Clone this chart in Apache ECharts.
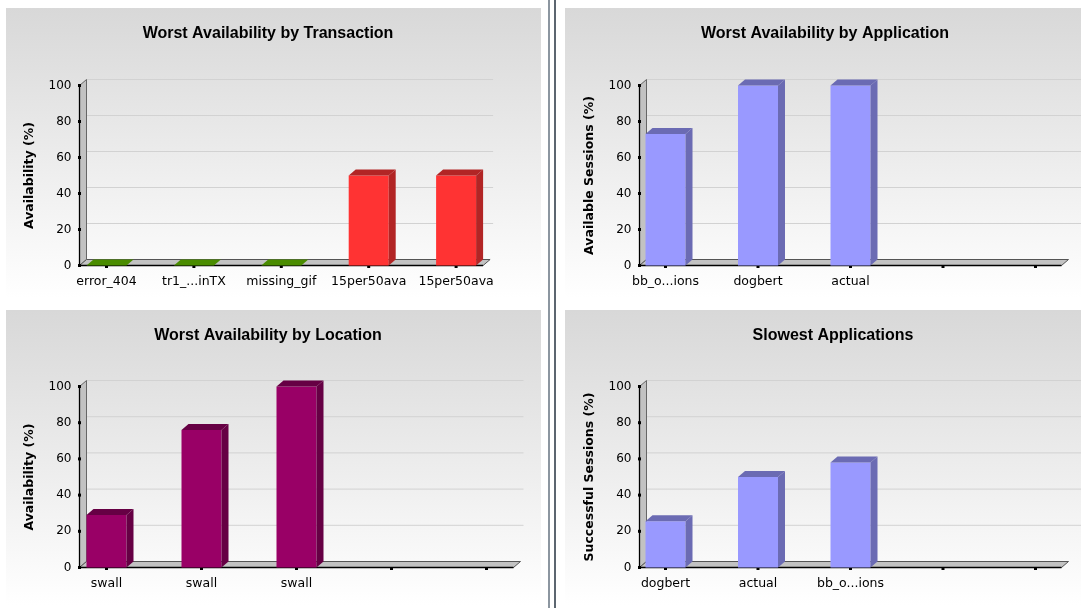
<!DOCTYPE html>
<html><head><meta charset="utf-8">
<script src="https://cdn.jsdelivr.net/npm/echarts@6/dist/echarts.min.js"></script>
<style>html,body{margin:0;padding:0;background:#fff}#c{width:1081px;height:608px}</style>
</head><body><div id="c"></div>
<script>
// ---- data ----
const titles = ['Worst Availability by Transaction', 'Worst Availability by Application', 'Worst Availability by Location', 'Slowest Applications'];
const yNames = ['Availability (%)', 'Available Sessions (%)', 'Availability (%)', 'Successful Sessions (%)'];
const txCategories = ['error_404', 'tr1_...inTX', 'missing_gif', '15per50ava', '15per50ava'];
const txValues = [0, 0, 0, 50, 50];
const appCategories = ['bb_o...ions', 'dogbert', 'actual', '', ''];
const appValues = [73, 100, 100, null, null];
const locCategories = ['swall', 'swall', 'swall', '', ''];
const locValues = [29, 76, 100, null, null];
const slowCategories = ['dogbert', 'actual', 'bb_o...ions', '', ''];
const slowValues = [25.5, 50, 58, null, null];
const yTicks = [0, 20, 40, 60, 80, 100];

// ---- layout / style ----
const DX = 7, DY = -6, BAR_W = 40;
const FONT = '"DejaVu Sans", Verdana, sans-serif';
const layouts = [
  {axisX: 79.5, first: 106.5, step: 87.4, top: 85.5, bottom: 265.5, bg: [6, 8, 535, 290], tx: 268, ty: 34, gx: 3},
  {axisX: 639.5, first: 665.5, step: 92.5, top: 85.5, bottom: 265.5, bg: [565, 8, 516, 290], tx: 825, ty: 34, gx: 14},
  {axisX: 79.5, first: 106.5, step: 95, top: 386.5, bottom: 567.5, bg: [6, 310, 535, 295], tx: 268, ty: 336, gx: 3},
  {axisX: 639.5, first: 665.5, step: 92.5, top: 386.5, bottom: 567.5, bg: [565, 310, 516, 295], tx: 833, ty: 336, gx: 14}
];
const red = {front: '#ff3333', dark: '#b22525'};
const green = {front: '#4a8c00', dark: '#4a8c00'};
const blue = {front: '#9999ff', dark: '#6b6bb3'};
const purple = {front: '#990066', dark: '#660044'};
const panels = [
  {cats: txCategories, vals: txValues, pick: v => v === 0 ? green : red},
  {cats: appCategories, vals: appValues, pick: () => blue},
  {cats: locCategories, vals: locValues, pick: () => purple},
  {cats: slowCategories, vals: slowValues, pick: () => blue}
];

function frameItem(lay) {
  return function (params, api) {
    const o = api.coord([0, 0]);
    const yTop = api.coord([0, 100])[1];
    const last = api.coord([4, 0])[0];
    const m = lay.first - lay.axisX;
    const L = o[0] - m, R = last + m, y0 = o[1];
    const ch = [];
    yTicks.forEach(t => {
      if (t === 0) return;
      const y = api.coord([0, t])[1] + DY;
      ch.push({type: 'line', shape: {x1: L + DX, y1: y, x2: R + DX + lay.gx, y2: y}, style: {stroke: '#d2d2d2', lineWidth: 1}});
    });
    ch.push({type: 'polygon', shape: {points: [[L, y0], [L, yTop], [L + DX, yTop + DY], [L + DX, y0 + DY]]}, style: {fill: '#c2c2c2', stroke: '#666', lineWidth: 1}});
    ch.push({type: 'polygon', shape: {points: [[L, y0], [R, y0], [R + DX, y0 + DY], [L + DX, y0 + DY]]}, style: {fill: '#c2c2c2', stroke: '#555', lineWidth: 1}});
    ch.push({type: 'line', shape: {x1: L, y1: y0, x2: L, y2: yTop}, style: {stroke: '#000', lineWidth: 1.3}});
    ch.push({type: 'line', shape: {x1: L, y1: y0, x2: R, y2: y0}, style: {stroke: '#000', lineWidth: 1.3}});
    yTicks.forEach(t => {
      const y = api.coord([0, t])[1];
      ch.push({type: 'rect', shape: {x: L - 1.5, y: y - 1.5, width: 3, height: 3}, style: {fill: '#000'}});
    });
    for (let i = 0; i < 5; i++) {
      const x = api.coord([i, 0])[0];
      ch.push({type: 'rect', shape: {x: x - 1.5, y: y0 - 0.5, width: 3, height: 3}, style: {fill: '#000'}});
    }
    return {type: 'group', children: ch};
  };
}

function barItem(pick) {
  return function (params, api) {
    const i = api.value(0), v = api.value(1);
    const p = api.coord([i, v]);
    const b = api.coord([i, 0]);
    const c = pick(v);
    const x0 = p[0] - BAR_W / 2, x1 = p[0] + BAR_W / 2, yt = p[1], y0 = b[1];
    const ch = [];
    if (y0 - yt > 0.5) {
      ch.push({type: 'rect', shape: {x: x0, y: yt, width: BAR_W, height: y0 - yt}, style: {fill: c.front}});
      ch.push({type: 'polygon', shape: {points: [[x1, yt], [x1 + DX, yt + DY], [x1 + DX, y0 + DY], [x1, y0]]}, style: {fill: c.dark}});
    }
    ch.push({type: 'polygon', shape: {points: [[x0, yt], [x1, yt], [x1 + DX, yt + DY], [x0 + DX, yt + DY]]}, style: {fill: c.dark}});
    return {type: 'group', children: ch};
  };
}

const graphic = [];
layouts.forEach((lay, k) => {
  graphic.push({type: 'rect', z: -10, shape: {x: lay.bg[0], y: lay.bg[1], width: lay.bg[2], height: lay.bg[3]},
    style: {fill: new echarts.graphic.LinearGradient(0, 0, 0, 1, [{offset: 0, color: '#d8d8d8'}, {offset: 1, color: '#ffffff'}])}});
  graphic.push({type: 'text', z: 10, x: lay.tx, y: lay.ty,
    style: {text: titles[k], align: 'center', verticalAlign: 'middle', font: 'bold 16px "Liberation Sans", Arial, sans-serif', fill: '#000'}});
});
graphic.push({type: 'rect', z: 20, shape: {x: 548, y: 0, width: 2, height: 608}, style: {fill: '#8c96a0'}});
graphic.push({type: 'rect', z: 20, shape: {x: 554, y: 0, width: 2, height: 608}, style: {fill: '#5c6670'}});

const grid = [], xAxis = [], yAxis = [], series = [];
layouts.forEach((lay, k) => {
  const left = lay.first - lay.step / 2;
  grid.push({left: left, top: lay.top, width: lay.step * 5, height: lay.bottom - lay.top, containLabel: false, outerBoundsMode: 'none'});
  xAxis.push({type: 'category', gridIndex: k, data: panels[k].cats, boundaryGap: true,
    axisLine: {show: false}, axisTick: {show: false}, splitLine: {show: false},
    axisLabel: {interval: 0, margin: 10, fontSize: 12.5, fontFamily: FONT, color: '#000'}});
  yAxis.push({type: 'value', gridIndex: k, min: 0, max: 100, interval: 20, offset: -(lay.axisX - left),
    axisLine: {show: false}, axisTick: {show: false}, splitLine: {show: false},
    axisLabel: {margin: 8, fontSize: 12, fontFamily: FONT, color: '#000'},
    name: yNames[k], nameLocation: 'middle', nameGap: 43, nameRotate: 90,
    nameTextStyle: {fontSize: 12.5, fontWeight: 'bold', fontFamily: FONT, color: '#000'}});
  series.push({type: 'custom', xAxisIndex: k, yAxisIndex: k, z: 1, clip: false, silent: true,
    renderItem: frameItem(lay), data: [[0, 0]]});
  const d = [];
  panels[k].vals.forEach((v, i) => { if (v !== null) d.push([i, v]); });
  series.push({type: 'custom', xAxisIndex: k, yAxisIndex: k, z: 3, clip: false, silent: true,
    renderItem: barItem(panels[k].pick), data: d});
});

const chart = echarts.init(document.getElementById('c'), null, {renderer: 'canvas'});
chart.setOption({animation: false, graphic: graphic, grid: grid, xAxis: xAxis, yAxis: yAxis, series: series});
</script>
</body></html>
